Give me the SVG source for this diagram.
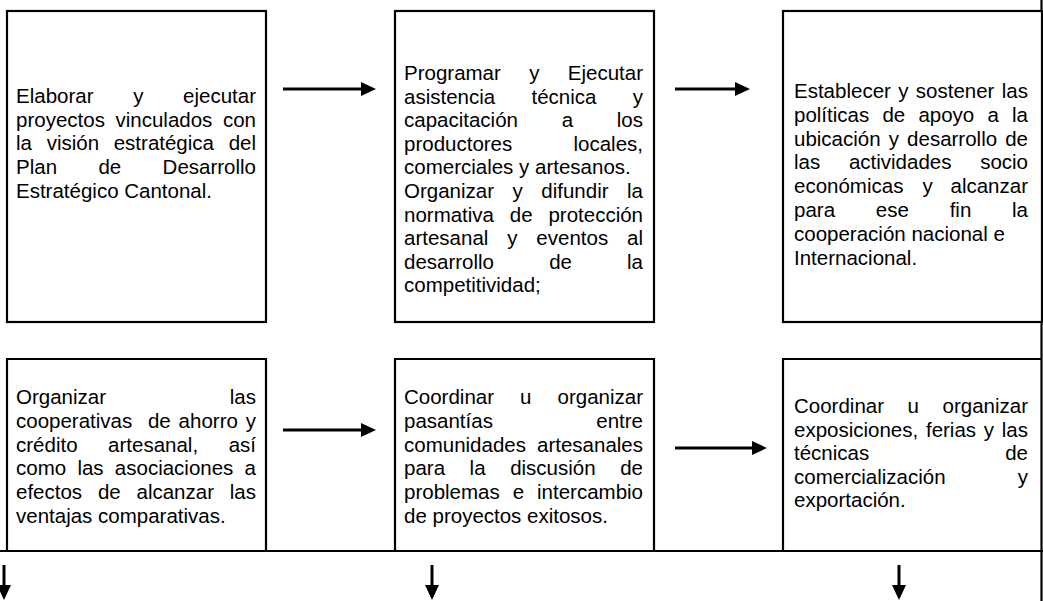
<svg xmlns="http://www.w3.org/2000/svg" width="1043" height="601" viewBox="0 0 1043 601">
<style>
.box{fill:#fff;stroke:#000;stroke-width:2.2}
.frame{fill:none;stroke:#000;stroke-width:2.2}
.t{font-family:"Liberation Sans",Arial,sans-serif;font-size:20.5px;fill:#000}
.arr{stroke:#000;stroke-width:3;fill:none}
</style>
<defs>
<marker id="ah" markerUnits="userSpaceOnUse" markerWidth="16" markerHeight="15" refX="3" refY="7" orient="auto">
<path d="M0,0 L15,7 L0,14 Z" fill="#000"/>
</marker>
</defs>
<rect width="1043" height="601" fill="#fff"/>
<g id="frame-lines">
<line class="frame" x1="1041.5" y1="0" x2="1041.5" y2="601"/>
<line class="frame" x1="0" y1="551" x2="1043" y2="551"/>
</g>
<g id="n1">
<rect class="box" x="7" y="11" width="259" height="311"/>
<text class="t"><tspan x="16" y="103">Elaborar</tspan><tspan x="133.15" y="103">y</tspan><tspan x="183.08" y="103">ejecutar</tspan></text>
<text class="t"><tspan x="16" y="126.7">proyectos</tspan><tspan x="115.49" y="126.7">vinculados</tspan><tspan x="222.95" y="126.7">con</tspan></text>
<text class="t"><tspan x="16" y="150.4">la</tspan><tspan x="46.63" y="150.4">visión</tspan><tspan x="113.71" y="150.4">estratégica</tspan><tspan x="228.65" y="150.4">del</tspan></text>
<text class="t"><tspan x="16" y="174.1">Plan</tspan><tspan x="98.41" y="174.1">de</tspan><tspan x="162.6" y="174.1">Desarrollo</tspan></text>
<text class="t" x="16" y="197.8">Estratégico Cantonal.</text>
</g>
<g id="n2">
<rect class="box" x="395" y="11" width="259" height="311"/>
<text class="t"><tspan x="404" y="80">Programar</tspan><tspan x="529.19" y="80">y</tspan><tspan x="567.81" y="80">Ejecutar</tspan></text>
<text class="t"><tspan x="404" y="103.6">asistencia</tspan><tspan x="531.48" y="103.6">técnica</tspan><tspan x="632.75" y="103.6">y</tspan></text>
<text class="t"><tspan x="404" y="127.2">capacitación</tspan><tspan x="561.67" y="127.2">a</tspan><tspan x="616.8" y="127.2">los</tspan></text>
<text class="t"><tspan x="404" y="150.8">productores</tspan><tspan x="573.5" y="150.8">locales,</tspan></text>
<text class="t" x="404" y="174.4">comerciales y artesanos.</text>
<text class="t"><tspan x="404" y="198">Organizar</tspan><tspan x="512.53" y="198">y</tspan><tspan x="541.31" y="198">difundir</tspan><tspan x="627.05" y="198">la</tspan></text>
<text class="t"><tspan x="404" y="221.6">normativa</tspan><tspan x="509.82" y="221.6">de</tspan><tspan x="548.43" y="221.6">protección</tspan></text>
<text class="t"><tspan x="404" y="245.2">artesanal</tspan><tspan x="507.22" y="245.2">y</tspan><tspan x="536.37" y="245.2">eventos</tspan><tspan x="627.05" y="245.2">al</tspan></text>
<text class="t"><tspan x="404" y="268.8">desarrollo</tspan><tspan x="549.13" y="268.8">de</tspan><tspan x="627.05" y="268.8">la</tspan></text>
<text class="t" x="404" y="292.4">competitividad;</text>
</g>
<g id="n3">
<rect class="box" x="783" y="11" width="259" height="311"/>
<text class="t"><tspan x="794" y="98">Establecer</tspan><tspan x="898.2" y="98">y</tspan><tspan x="915.81" y="98">sostener</tspan><tspan x="1001.8" y="98">las</tspan></text>
<text class="t"><tspan x="794" y="121.8">políticas</tspan><tspan x="882.39" y="121.8">de</tspan><tspan x="918.39" y="121.8">apoyo</tspan><tspan x="987.43" y="121.8">a</tspan><tspan x="1012.05" y="121.8">la</tspan></text>
<text class="t"><tspan x="794" y="145.6">ubicación</tspan><tspan x="888.71" y="145.6">y</tspan><tspan x="907.08" y="145.6">desarrollo</tspan><tspan x="1005.2" y="145.6">de</tspan></text>
<text class="t"><tspan x="794" y="169.4">las</tspan><tspan x="848.9" y="169.4">actividades</tspan><tspan x="980.15" y="169.4">socio</tspan></text>
<text class="t"><tspan x="794" y="193.2">económicas</tspan><tspan x="922.4" y="193.2">y</tspan><tspan x="950.53" y="193.2">alcanzar</tspan></text>
<text class="t"><tspan x="794" y="217">para</tspan><tspan x="875.8" y="217">ese</tspan><tspan x="949.63" y="217">fin</tspan><tspan x="1012.05" y="217">la</tspan></text>
<text class="t" x="794" y="240.8">cooperación nacional e</text>
<text class="t" x="794" y="264.6">Internacional.</text>
</g>
<g id="n4">
<path class="frame" d="M7,551 V359 H266 V551"/>
<text class="t"><tspan x="16" y="404">Organizar</tspan><tspan x="229.8" y="404">las</tspan></text>
<text class="t"><tspan x="16" y="427.8">cooperativas</tspan><tspan x="147.95" y="427.8">de</tspan><tspan x="178.62" y="427.8">ahorro</tspan><tspan x="245.75" y="427.8">y</tspan></text>
<text class="t"><tspan x="16" y="451.6">crédito</tspan><tspan x="108.08" y="451.6">artesanal,</tspan><tspan x="228.65" y="451.6">así</tspan></text>
<text class="t"><tspan x="16" y="475.4">como</tspan><tspan x="77.38" y="475.4">las</tspan><tspan x="114.84" y="475.4">asociaciones</tspan><tspan x="244.6" y="475.4">a</tspan></text>
<text class="t"><tspan x="16" y="499.2">efectos</tspan><tspan x="97.9" y="499.2">de</tspan><tspan x="136.51" y="499.2">alcanzar</tspan><tspan x="229.8" y="499.2">las</tspan></text>
<text class="t" x="16" y="523">ventajas comparativas.</text>
</g>
<g id="n5">
<path class="frame" d="M395,551 V359 H654 V551"/>
<text class="t"><tspan x="404" y="404">Coordinar</tspan><tspan x="520.08" y="404">u</tspan><tspan x="557.56" y="404">organizar</tspan></text>
<text class="t"><tspan x="404" y="427.8">pasantías</tspan><tspan x="596.28" y="427.8">entre</tspan></text>
<text class="t"><tspan x="404" y="451.6">comunidades</tspan><tspan x="537.04" y="451.6">artesanales</tspan></text>
<text class="t"><tspan x="404" y="475.4">para</tspan><tspan x="469.62" y="475.4">la</tspan><tspan x="510.17" y="475.4">discusión</tspan><tspan x="620.2" y="475.4">de</tspan></text>
<text class="t"><tspan x="404" y="499.2">problemas</tspan><tspan x="512.67" y="499.2">e</tspan><tspan x="537.06" y="499.2">intercambio</tspan></text>
<text class="t" x="404" y="523">de proyectos exitosos.</text>
</g>
<g id="n6">
<path class="frame" d="M783,551 V359 H1042"/>
<text class="t"><tspan x="794" y="413">Coordinar</tspan><tspan x="907.58" y="413">u</tspan><tspan x="942.56" y="413">organizar</tspan></text>
<text class="t"><tspan x="794" y="436.6">exposiciones,</tspan><tspan x="925.94" y="436.6">ferias</tspan><tspan x="983.81" y="436.6">y</tspan><tspan x="1001.8" y="436.6">las</tspan></text>
<text class="t"><tspan x="794" y="460.2">técnicas</tspan><tspan x="1005.2" y="460.2">de</tspan></text>
<text class="t"><tspan x="794" y="483.8">comercialización</tspan><tspan x="1017.75" y="483.8">y</tspan></text>
<text class="t" x="794" y="507.4">exportación.</text>
</g>
<g id="connectors">
<line class="arr" x1="283" y1="89" x2="364" y2="89" marker-end="url(#ah)"/>
<line class="arr" x1="675" y1="89" x2="738" y2="89" marker-end="url(#ah)"/>
<line class="arr" x1="283" y1="430" x2="364" y2="430" marker-end="url(#ah)"/>
<line class="arr" x1="675" y1="448" x2="755" y2="448" marker-end="url(#ah)"/>
<line class="arr" x1="4" y1="565" x2="4" y2="588" marker-end="url(#ah)"/>
<line class="arr" x1="432" y1="565" x2="432" y2="588" marker-end="url(#ah)"/>
<line class="arr" x1="899" y1="565" x2="899" y2="588" marker-end="url(#ah)"/>
</g>
</svg>
